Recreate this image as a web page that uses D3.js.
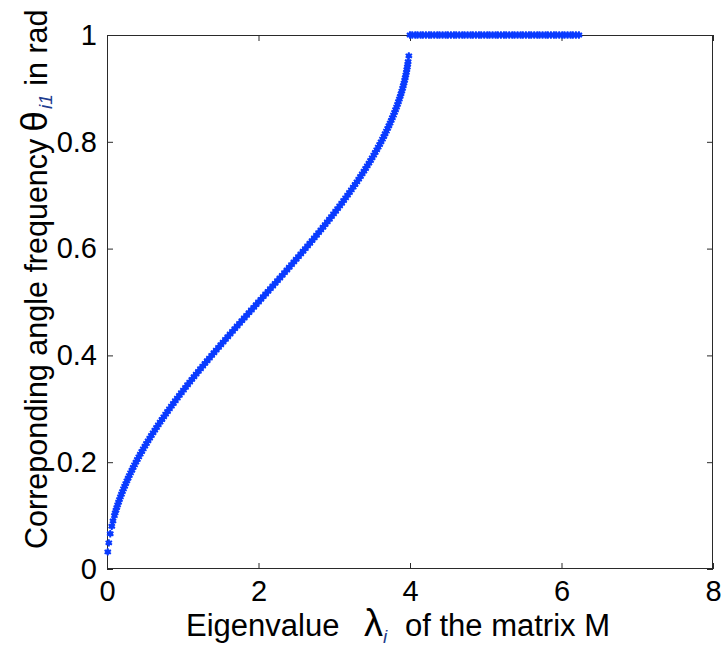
<!DOCTYPE html>
<html>
<head>
<meta charset="utf-8">
<script src="https://cdn.jsdelivr.net/npm/d3@7"></script>
<style>
  body { margin: 0; background: #fff; }
  svg { display: block; }
  text { font-family: "Liberation Sans", Arial, sans-serif; fill: #000; }
</style>
</head>
<body>
<svg id="chart" width="722" height="652"></svg>
<script>
// Eigenvalues lambda_i and their angle frequencies theta_i1 (rad, normalised)
const curveLambda = [
  0.0101, 0.0237, 0.0428, 0.0628, 0.0794,
  0.0979, 0.1078, 0.1182, 0.1291, 0.1404, 0.1522, 0.1645, 0.1772, 0.1903, 0.2039,
  0.2180, 0.2325, 0.2474, 0.2627, 0.2785, 0.2947, 0.3113, 0.3284, 0.3458, 0.3637,
  0.3820, 0.4006, 0.4197, 0.4391, 0.4590, 0.4792, 0.4998, 0.5207, 0.5421, 0.5637,
  0.5858, 0.6082, 0.6309, 0.6540, 0.6774, 0.7011, 0.7252, 0.7495, 0.7742, 0.7992,
  0.8244, 0.8500, 0.8758, 0.9020, 0.9283, 0.9550, 0.9819, 1.0091, 1.0365, 1.0641,
  1.0920, 1.1201, 1.1485, 1.1770, 1.2057, 1.2346, 1.2638, 1.2931, 1.3225, 1.3522,
  1.3820, 1.4119, 1.4420, 1.4723, 1.5026, 1.5331, 1.5637, 1.5944, 1.6252, 1.6561,
  1.6871, 1.7182, 1.7493, 1.7805, 1.8118, 1.8431, 1.8744, 1.9058, 1.9372, 1.9686,
  2.0000, 2.0314, 2.0628, 2.0942, 2.1256, 2.1569, 2.1882, 2.2195, 2.2507, 2.2818,
  2.3129, 2.3439, 2.3748, 2.4056, 2.4363, 2.4669, 2.4974, 2.5277, 2.5580, 2.5881,
  2.6180, 2.6478, 2.6775, 2.7069, 2.7362, 2.7654, 2.7943, 2.8230, 2.8515, 2.8799,
  2.9080, 2.9359, 2.9635, 2.9909, 3.0181, 3.0450, 3.0717, 3.0980, 3.1242, 3.1500,
  3.1756, 3.2008, 3.2258, 3.2505, 3.2749, 3.2989, 3.3226, 3.3460, 3.3691, 3.3918,
  3.4142, 3.4363, 3.4579, 3.4793, 3.5002, 3.5208, 3.5410, 3.5609, 3.5803, 3.5994,
  3.6180, 3.6363, 3.6542, 3.6716, 3.6887, 3.7053, 3.7215, 3.7373, 3.7526, 3.7675,
  3.7820, 3.7961, 3.8097, 3.8228, 3.8355, 3.8478, 3.8596, 3.8709, 3.8818, 3.8922,
  3.9021, 3.9116, 3.9206, 3.9291, 3.9372, 3.9447, 3.9518, 3.9585, 3.9646, 3.9702,
  3.9754, 3.9846
];
const curveTheta = [
  0.032, 0.049, 0.066, 0.080, 0.090,
  0.100, 0.105, 0.110, 0.115, 0.120, 0.125, 0.130, 0.135, 0.140, 0.145,
  0.150, 0.155, 0.160, 0.165, 0.170, 0.175, 0.180, 0.185, 0.190, 0.195,
  0.200, 0.205, 0.210, 0.215, 0.220, 0.225, 0.230, 0.235, 0.240, 0.245,
  0.250, 0.255, 0.260, 0.265, 0.270, 0.275, 0.280, 0.285, 0.290, 0.295,
  0.300, 0.305, 0.310, 0.315, 0.320, 0.325, 0.330, 0.335, 0.340, 0.345,
  0.350, 0.355, 0.360, 0.365, 0.370, 0.375, 0.380, 0.385, 0.390, 0.395,
  0.400, 0.405, 0.410, 0.415, 0.420, 0.425, 0.430, 0.435, 0.440, 0.445,
  0.450, 0.455, 0.460, 0.465, 0.470, 0.475, 0.480, 0.485, 0.490, 0.495,
  0.500, 0.505, 0.510, 0.515, 0.520, 0.525, 0.530, 0.535, 0.540, 0.545,
  0.550, 0.555, 0.560, 0.565, 0.570, 0.575, 0.580, 0.585, 0.590, 0.595,
  0.600, 0.605, 0.610, 0.615, 0.620, 0.625, 0.630, 0.635, 0.640, 0.645,
  0.650, 0.655, 0.660, 0.665, 0.670, 0.675, 0.680, 0.685, 0.690, 0.695,
  0.700, 0.705, 0.710, 0.715, 0.720, 0.725, 0.730, 0.735, 0.740, 0.745,
  0.750, 0.755, 0.760, 0.765, 0.770, 0.775, 0.780, 0.785, 0.790, 0.795,
  0.800, 0.805, 0.810, 0.815, 0.820, 0.825, 0.830, 0.835, 0.840, 0.845,
  0.850, 0.855, 0.860, 0.865, 0.870, 0.875, 0.880, 0.885, 0.890, 0.895,
  0.900, 0.905, 0.910, 0.915, 0.920, 0.925, 0.930, 0.935, 0.940, 0.945,
  0.950, 0.961
];
// Eigenvalues above 4 whose angle frequency saturates at 1
const flatLambda = [
  4.00, 4.03, 4.07, 4.10, 4.14, 4.17, 4.21, 4.25, 4.28, 4.32, 4.36, 4.39, 4.43,
  4.47, 4.50, 4.54, 4.58, 4.61, 4.65, 4.69, 4.72, 4.76, 4.80, 4.83, 4.87, 4.91,
  4.94, 4.98, 5.02, 5.05, 5.09, 5.13, 5.16, 5.20, 5.24, 5.27, 5.31, 5.35, 5.38,
  5.42, 5.46, 5.49, 5.53, 5.57, 5.60, 5.64, 5.68, 5.71, 5.75, 5.79, 5.82, 5.86,
  5.90, 5.93, 5.97, 6.01, 6.04, 6.08, 6.12, 6.15, 6.19, 6.23
];
const flatTheta = [
  1, 1, 1, 1, 1, 1, 1, 1, 1, 1, 1, 1, 1,
  1, 1, 1, 1, 1, 1, 1, 1, 1, 1, 1, 1, 1,
  1, 1, 1, 1, 1, 1, 1, 1, 1, 1, 1, 1, 1,
  1, 1, 1, 1, 1, 1, 1, 1, 1, 1, 1, 1, 1,
  1, 1, 1, 1, 1, 1, 1, 1, 1, 1
];

const xTicks = [0, 2, 4, 6, 8];
const xTickLabels = ["0", "2", "4", "6", "8"];
const yTicks = [0, 0.2, 0.4, 0.6, 0.8, 1];
const yTickLabels = ["0", "0.2", "0.4", "0.6", "0.8", "1"];

const W = 722, H = 652;
const plot = { left: 107, right: 713, top: 35, bottom: 569 };
const axisColor = "#2a2a2a";
const markerColor = "#0a3bff";
const subColor = "#1d3c8f";

const svg = d3.select("#chart");
svg.append("rect").attr("width", W).attr("height", H).attr("fill", "#fff");

const x = d3.scaleLinear().domain([0, 8]).range([plot.left, plot.right]);
const y = d3.scaleLinear().domain([0, 1]).range([plot.bottom, plot.top]);

function styleAxis(g) {
  g.select(".domain").remove();
  g.selectAll(".tick line").attr("stroke", axisColor).attr("stroke-width", 1);
  g.selectAll(".tick text")
    .attr("font-size", 29)
    .attr("fill", "#000")
    .attr("font-family", '"Liberation Sans", Arial, sans-serif');
}

// Bottom axis with labels
svg.append("g")
  .attr("transform", `translate(0,${plot.bottom})`)
  .call(d3.axisBottom(x).tickValues(xTicks).tickSizeInner(-6).tickSizeOuter(0)
    .tickPadding(11).tickFormat((d, i) => xTickLabels[i]))
  .call(styleAxis);

// Left axis with labels
svg.append("g")
  .attr("transform", `translate(${plot.left},0)`)
  .call(d3.axisLeft(y).tickValues(yTicks).tickSizeInner(-6).tickSizeOuter(0)
    .tickPadding(10).tickFormat((d, i) => yTickLabels[i]))
  .call(styleAxis);

// Mirrored ticks on the top and right edges
svg.append("g")
  .attr("transform", `translate(0,${plot.top})`)
  .call(d3.axisTop(x).tickValues(xTicks).tickSizeInner(-6).tickSizeOuter(0).tickFormat(""))
  .call(styleAxis);
svg.append("g")
  .attr("transform", `translate(${plot.right},0)`)
  .call(d3.axisRight(y).tickValues(yTicks).tickSizeInner(-6).tickSizeOuter(0).tickFormat(""))
  .call(styleAxis);

// Axes box
svg.append("rect")
  .attr("x", plot.left + 0.5).attr("y", plot.top + 0.5)
  .attr("width", plot.right - plot.left - 1).attr("height", plot.bottom - plot.top - 1)
  .attr("fill", "none").attr("stroke", axisColor).attr("stroke-width", 1);

// Markers
const points = curveLambda.map((l, i) => ({ l, t: curveTheta[i] }))
  .concat(flatLambda.map((l, i) => ({ l, t: flatTheta[i] })));
const star = d3.symbol().type(d3.symbolAsterisk).size(38);
const dot = d3.symbol().type(d3.symbolCircle).size(22);

const mk = svg.append("g");
mk.selectAll("path.dot").data(points).join("path")
  .attr("class", "dot")
  .attr("d", dot)
  .attr("transform", d => `translate(${x(d.l)},${y(d.t)})`)
  .attr("fill", markerColor);
mk.selectAll("path.star").data(points).join("path")
  .attr("class", "star")
  .attr("d", star)
  .attr("transform", d => `translate(${x(d.l)},${y(d.t)})`)
  .attr("fill", "none")
  .attr("stroke", markerColor)
  .attr("stroke-width", 1.9);

// X axis title
const xt = svg.append("text")
  .attr("y", 636)
  .attr("font-size", 31)
  .attr("xml:space", "preserve");
xt.append("tspan").attr("x", 186).text("Eigenvalue");
xt.append("tspan").attr("x", 364).attr("font-size", 38).text("λ");
xt.append("tspan").attr("font-size", 19).attr("font-style", "italic")
  .attr("dy", 7).attr("fill", subColor).text("i");
xt.append("tspan").attr("x", 405).attr("dy", -7).text("of the matrix M");

// Y axis title
const yt = svg.append("text")
  .attr("transform", "translate(47,549) rotate(-90)")
  .attr("text-anchor", "start")
  .attr("font-size", 30.5)
  .attr("xml:space", "preserve");
yt.append("tspan").text("Correponding angle frequency");
yt.append("tspan").attr("dx", 7).attr("font-size", 37).text("θ");
yt.append("tspan").attr("font-size", 19).attr("font-style", "italic")
  .attr("dx", 2).attr("dy", 5).attr("fill", subColor).text("i1");
yt.append("tspan").attr("dy", -5).text(" in rad");
</script>
</body>
</html>
